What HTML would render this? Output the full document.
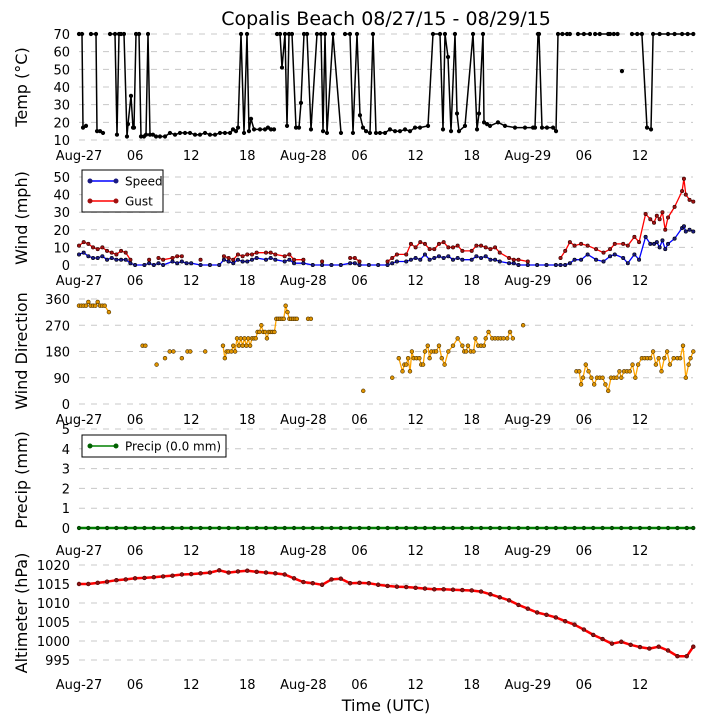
<!DOCTYPE html>
<html><head><meta charset="utf-8"><style>
html,body{margin:0;padding:0;background:#fff;}
svg{display:block;font-family:"DejaVu Sans","Liberation Sans",sans-serif;}
</style></head><body>
<svg id="chart" width="705" height="725" viewBox="0 0 705 725" xmlns="http://www.w3.org/2000/svg">
<text x="386" y="25" font-size="19" text-anchor="middle">Copalis Beach 08/27/15 - 08/29/15</text>
<text x="386" y="711" font-size="16" text-anchor="middle">Time (UTC)</text>
</svg>
<script>
const xTickHours=[0,6,12,18,24,30,36,42,48,54,60];
const xTickLabels=["Aug-27","06","12","18","Aug-28","06","12","18","Aug-29","06","12"];

const tempTimes=[0,.32,.43,.75,null,1.28,1.82,1.93,2.25,2.57,null,3.32,3.85,4.06,4.28,4.49,4.81,5.13,5.24,5.56,5.78,5.88,6.1,6.42,6.63,6.95,7.17,7.38,7.59,7.91,8.24,8.66,9.2,9.73,10.27,10.8,11.34,11.87,12.41,12.94,13.48,14.01,14.55,15.08,15.61,16.15,16.47,16.79,17.01,17.33,17.65,17.97,18.18,18.4,18.72,19.36,19.89,20.21,20.53,20.86,null,
21.18,21.5,21.71,22.03,22.25,22.46,22.78,23.21,23.53,23.74,24.06,24.39,24.81,25.45,25.88,26.1,26.31,26.52,27.17,28.02,null,
28.45,28.98,29.3,29.73,30.05,30.37,30.7,31.12,31.44,31.76,32.19,32.73,33.26,33.8,34.33,34.87,35.4,35.94,36.47,37.33,37.86,38.61,38.93,39.14,39.47,39.79,40.21,40.43,40.64,41.28,42.14,42.57,42.78,43.21,43.32,43.64,43.96,44.81,45.56,46.63,47.7,48.56,48.77,49.09,49.2,49.52,50.05,50.7,51.02,51.23,51.7,52.2,52.5,null,53.37,54,54.65,null,55.2,55.7,56.6,56.8,57.2,57.6,null,58.07,null,59.14,59.7,60.2,60.75,61.18,61.4,62.1,63,63.7,64.5,65.1,65.7];
const tempValues=[70,70,17,18,null,70,70,15,15,14,null,70,70,13,70,70,70,12,19,35,17,17,70,70,12,12,13,70,13,13,12,12,12,14,13,14,14,14,13,13,14,13,13,14,14,14,16,15,17,70,14,70,15,22,16,16,16,17,16,16,null,
70,70,51,70,18,70,70,17,17,31,70,70,16,70,70,15,70,14,70,14,null,
70,70,14,70,24,17,15,14,70,14,14,14,16,15,15,16,15,17,17,18,70,70,16,70,57,15,70,25,15,18,70,16,25,70,20,19,18,20,18,17,17,17,17,70,70,17,17,17,15,70,70,70,70,null,70,70,70,null,70,70,70,70,70,70,null,49,null,70,70,70,17,16,70,70,70,70,70,70,70];

const windTimes=[0,.5,1,1.5,2,2.5,3,3.5,4,4.5,5,5.5,6,7,7.5,8,8.5,9,10,10.5,11,11.5,12,13,14,15,15.5,16,16.5,17,17.5,18,18.5,19,20,20.5,21,22,22.5,23,24,25,26,27,28,29,29.5,30,31,32,33,33.5,34,35,35.5,36,36.5,37,37.5,38,38.5,39,39.5,40,40.5,41,42,42.5,43,43.5,44,44.5,45,46,46.5,47,48,49,50,51,51.5,52,52.5,53,53.7,54.4,55.3,56.1,56.8,57.3,58.2,58.7,59.4,59.9,60.6,61.1,61.5,61.8,62.1,62.4,62.7,63,63.7,64.5,64.7,64.9,65.3,65.7];
const speedValues=[6,7,5,4,4,5,3,4,3,3,3,1,0,0,1,0,1,0,2,1,2,1,1,0,0,0,3,2,1,3,2,2,3,4,3,4,3,2,3,1,1,0,0,0,0,1,1,0,0,0,0,1,2,2,3,4,3,6,3,4,5,4,5,3,4,3,3,5,4,5,3,3,2,1,1,0,0,0,0,0,0,0,1,3,3,6,3,2,5,6,4,1,6,3,16,12,12,13,10,14,9,12,15,21,22,19,20,19];
const gustValues=[11,13,12,10,9,10,8,7,6,8,7,3,null,null,3,null,4,3,4,5,5,null,null,3,null,null,5,4,3,6,5,6,6,7,7,7,6,5,6,3,3,null,2,null,null,4,4,2,null,null,2,4,6,6,12,10,13,12,9,9,12,13,10,10,11,8,8,11,11,10,9,10,7,4,3,3,2,null,null,null,4,8,13,11,12,11,9,7,9,12,12,11,16,13,29,26,24,28,26,30,20,27,33,42,49,40,37,36];

const dirTimes=[0,.25,.5,.75,1,1.25,1.5,1.75,2,2.25,2.5,2.75,3.2,null,6.8,7.1,null,8.3,null,9.2,null,9.7,10.1,null,11,null,11.6,11.9,null,13.5,null,
15.4,15.6,15.8,16,16.3,16.5,16.7,16.9,17.1,17.3,17.5,17.7,17.9,18.1,18.3,18.5,18.7,18.9,19.1,19.3,19.5,19.7,19.9,20.1,20.3,20.5,20.7,20.9,21.1,21.3,21.5,21.7,21.9,22.1,22.3,22.5,22.7,22.9,23.1,23.3,null,24.5,24.8,null,30.4,null,33.5,null,
34.2,34.6,34.8,35,35.2,35.4,35.6,35.8,36.1,36.4,36.6,36.8,37,37.3,37.5,37.7,38,38.2,38.5,38.8,39.1,39.5,40,40.5,41,41.2,41.4,41.6,41.9,42.2,42.4,42.7,43,43.3,43.5,43.8,44.2,44.5,44.8,45.1,45.4,45.8,46.1,46.4,null,47.5,null,
53.2,53.5,53.7,53.9,54.2,54.5,54.8,55.1,55.4,55.7,56,56.3,56.6,56.9,57.2,57.5,57.8,58,58.3,58.6,58.9,59.2,59.5,59.8,60.2,60.5,60.8,61.1,61.4,61.7,62,62.3,62.6,62.9,63.2,63.6,64,64.3,64.6,64.9,65.2,65.4,65.7];
const dirValues=[337,337,337,337,350,337,337,337,350,337,337,337,315,null,200,200,null,135,null,157,null,180,180,null,157,null,180,180,null,180,null,
200,157,180,180,180,200,180,225,200,225,200,225,200,225,200,225,225,225,247,247,270,247,247,225,247,247,247,247,292,292,292,292,292,337,315,292,292,292,292,292,null,292,292,null,45,null,90,null,
157,112,135,135,157,112,180,157,157,157,135,135,180,200,157,180,180,180,200,157,135,180,200,225,200,180,180,200,180,180,225,200,200,200,225,247,225,225,225,225,225,225,247,225,null,270,null,
112,112,67,90,135,112,90,67,90,90,90,67,45,90,90,90,112,90,112,112,112,135,90,135,157,157,157,157,180,135,157,112,157,180,135,157,157,157,200,90,135,157,180];

const precipTimes=[0,1,2,3,4,5,6,7,8,9,10,11,12,13,14,15,16,17,18,19,20,21,22,23,24,25,26,27,28,29,30,31,32,33,34,35,36,37,38,39,40,41,42,43,44,45,46,47,48,49,50,51,52,53,54,55,56,57,58,59,60,61,62,63,64,65,65.7];
const precipValues=[0,0,0,0,0,0,0,0,0,0,0,0,0,0,0,0,0,0,0,0,0,0,0,0,0,0,0,0,0,0,0,0,0,0,0,0,0,0,0,0,0,0,0,0,0,0,0,0,0,0,0,0,0,0,0,0,0,0,0,0,0,0,0,0,0,0,0];

const altTimes=[0,1,2,3,4,5,6,7,8,9,10,11,12,13,14,15,16,17,18,19,20,21,22,23,24,25,26,27,28,29,30,31,32,33,34,35,36,37,38,39,40,41,42,43,44,45,46,47,48,49,50,51,52,53,54,55,56,57,58,59,60,61,62,63,64,65,65.7];
const altValues=[1015,1015,1015.3,1015.6,1016,1016.2,1016.5,1016.6,1016.8,1017,1017.2,1017.5,1017.6,1017.8,1018,1018.6,1018,1018.3,1018.5,1018.2,1018,1017.8,1017.5,1016.5,1015.5,1015.2,1014.8,1016.2,1016.4,1015.2,1015.3,1015.2,1014.8,1014.5,1014.3,1014.2,1014,1013.8,1013.6,1013.6,1013.5,1013.4,1013.3,1013,1012.3,1011.5,1010.7,1009.5,1008.5,1007.5,1006.9,1006.2,1005.2,1004.3,1003,1001.6,1000.5,999.3,999.8,999,998.4,998,998.5,997.5,996,996,998.5];

const NS="http://www.w3.org/2000/svg";
const svg=document.getElementById('chart');
const X0=79,PXH=9.35;
function xs(h){return X0+h*PXH;}
function mk(tag,attrs,parent){const e=document.createElementNS(NS,tag);for(const k in attrs)e.setAttribute(k,attrs[k]);(parent||svg).appendChild(e);return e;}
function lin(v0,y0,v1,y1){return v=>y0+(v-v0)*(y1-y0)/(v1-v0);}

function panel(name,ys,ticks,labelBaseline,title,titleY){
  const g=mk('g',{});
  
  
  ticks.forEach(t=>{
    const y=ys(t);
    const gl=mk('line',{x1:X0,x2:693,y1:y,y2:y,stroke:'#c8c8c8','stroke-width':1,'stroke-dasharray':'6,6'},g);
    
    
    const tl=mk('text',{x:70,y:y+5,'font-size':13,'text-anchor':'end'},g);
    
    
    tl.textContent=t;
  });
  xTickHours.forEach((h,i)=>{
    const tl=mk('text',{x:xs(h),y:labelBaseline,'font-size':13,'text-anchor':'middle'},g);
    
    
    tl.textContent=xTickLabels[i];
  });
  const at=mk('text',{x:0,y:0,'font-size':16,'text-anchor':'middle',transform:`translate(27,${titleY}) rotate(-90)`},g);
  
  
  at.textContent=title;
  return g;
}
function series(name,times,vals,ys,lc,lw,mf,ms,r){
  const g=mk('g',{});
  
  
  let d='',pen=false;
  for(let i=0;i<times.length;i++){
    if(times[i]===null||vals[i]===null){pen=false;continue;}
    d+=(pen?'L':'M')+xs(times[i]).toFixed(1)+' '+ys(vals[i]).toFixed(1);pen=true;
  }
  const p=mk('path',{d:d,fill:'none',stroke:lc,'stroke-width':lw,'stroke-linejoin':'round'},g);
  
  
  for(let i=0;i<times.length;i++){
    if(times[i]===null||vals[i]===null)continue;
    const c=mk('circle',{cx:xs(times[i]),cy:ys(vals[i]),r:r,fill:mf,stroke:ms,'stroke-width':0.6},g);
    
    
  }
}
function legend(name,x,y,w,h,items){
  const g=mk('g',{});
  
  
  mk('rect',{x:x,y:y,width:w,height:h,fill:'#fff',stroke:'#000','stroke-width':1},g);
  items.forEach((it,i)=>{
    const cy=y+11+i*20;
    mk('line',{x1:x+6,x2:x+36,y1:cy,y2:cy,stroke:it.c,'stroke-width':1.5},g);
    mk('circle',{cx:x+8,cy:cy,r:2,fill:it.m,stroke:it.m},g);
    mk('circle',{cx:x+34,cy:cy,r:2,fill:it.m,stroke:it.m},g);
    const t=mk('text',{x:x+43,y:cy+4.5,'font-size':12},g);
    
    
    t.textContent=it.t;
  });
}

// Temperature
const yT=lin(10,140,70,34);
panel('temp',yT,[10,20,30,40,50,60,70],160,'Temp (\u00B0C)',87);
series('temp',tempTimes,tempValues,yT,'#000',1.5,'#000','#000',1.8);

// Wind
const yW=lin(0,265,50,177);
panel('wind',yW,[0,10,20,30,40,50],285,'Wind (mph)',218);
series('speed',windTimes,speedValues,yW,'#0000ff',1.3,'#1a1a80','#000',1.7);
series('gust',windTimes,gustValues,yW,'#ff0000',1.3,'#a01010','#300',1.7);
legend('wind-legend',82,170,81,42,[{t:'Speed',c:'#0000ff',m:'#1a1a80'},{t:'Gust',c:'#ff0000',m:'#a01010'}]);

// Direction
const yD=lin(0,404,360,299);
panel('direction',yD,[0,90,180,270,360],424,'Wind Direction',351);
series('direction',dirTimes,dirValues,yD,'#ffa500',1.3,'#e09400','#4a3000',1.9);

// Precip
const yP=lin(0,528,5,429);
panel('precip',yP,[0,1,2,3,4,5],555,'Precip (mm)',480);
series('precip',precipTimes,precipValues,yP,'#008000',2.5,'#006000','#003000',1.8);
legend('precip-legend',82,435,144,22,[{t:'Precip (0.0 mm)',c:'#008000',m:'#006000'}]);

// Altimeter
const yA=lin(995,660,1020,565);
panel('altimeter',yA,[995,1000,1005,1010,1015,1020],689,'Altimeter (hPa)',613);
series('altimeter',altTimes,altValues,yA,'#ff0000',2.5,'#901010','#400',1.9);
</script>
</body></html>
